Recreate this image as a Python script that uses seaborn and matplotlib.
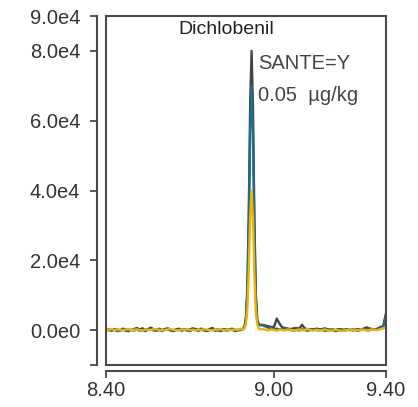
import numpy as np
import pandas as pd
import matplotlib
matplotlib.use("Agg")
import matplotlib.pyplot as plt
import seaborn as sns

# Retention time (min)
time_left = [8.40, 8.41, 8.42, 8.43, 8.44, 8.45, 8.46, 8.47, 8.48, 8.49,
             8.50, 8.51, 8.52, 8.53, 8.54, 8.55, 8.56, 8.57, 8.58, 8.59,
             8.60, 8.61, 8.62, 8.63, 8.64, 8.65, 8.66, 8.67, 8.68, 8.69,
             8.70, 8.71, 8.72, 8.73, 8.74, 8.75, 8.76, 8.77, 8.78, 8.79,
             8.80, 8.81, 8.82, 8.83, 8.84, 8.85, 8.86, 8.87, 8.88]
time_peak = [8.89, 8.895, 8.90, 8.905, 8.91, 8.915, 8.92, 8.925, 8.93,
             8.935, 8.94, 8.945, 8.95]
time_right = [8.96, 8.97, 8.98, 8.99, 9.00, 9.01, 9.02, 9.03, 9.04, 9.05,
              9.06, 9.07, 9.08, 9.09, 9.10, 9.11, 9.12, 9.13, 9.14, 9.15,
              9.16, 9.17, 9.18, 9.19, 9.20, 9.21, 9.22, 9.23, 9.24, 9.25,
              9.26, 9.27, 9.28, 9.29, 9.30, 9.31, 9.32, 9.33, 9.34, 9.35,
              9.36, 9.37, 9.38, 9.39, 9.40]

# Intensity (counts) of the three overlaid traces
black_left = [100, 200, -100, 300, 100, -100, 400, 200, 100, 0,
              300, 600, 200, 500, 100, 300, 700, 200, 100, 400,
              0, 300, 500, 200, -100, 200, 400, 100, 300, 0,
              200, 500, 300, 100, 400, 200, -100, 300, 600, 100,
              200, 0, 300, 100, 200, 400, 100, 0, 200]
black_peak = [300, 1200, 3800, 12500, 34500, 65500, 80000, 63500, 31500,
              10500, 3200, 1700, 1500]
black_right = [1500, 1300, 1100, 900, 900, 3300, 1800, 700, 600, 400,
               300, 500, 600, 400, 1500, 500, 200, 300, 100, 400,
               300, 200, 500, 300, 100, 200, 0, 300, 200, 100,
               300, 0, 200, 100, 300, 200, 400, 800, 500, 300,
               200, 400, 900, 1100, 4800]

blue_left = [-100, 0, -200, 100, -300, -100, 200, -200, -300, 100,
             -100, 200, -200, 0, -300, 100, 300, -100, -200, 0,
             -300, 100, 200, -100, -300, 0, 200, -200, 100, -100,
             -300, 200, 0, -200, 100, -100, -300, 0, 200, -200,
             -100, -300, 100, -200, 0, 200, -300, -100, 0]
blue_peak = [200, 1000, 3300, 11000, 30200, 57300, 70000, 55600, 27600,
             9200, 2800, 1500, 1400]
blue_right = [1400, 1000, 700, 500, 300, 400, 200, 100, 600, 200,
              0, -200, 100, -100, 200, 0, -200, 100, 300, 0,
              -100, 200, -200, -100, 100, 0, -300, -100, 100, -200,
              0, 200, -100, 0, -200, 100, 200, 0, -100, 300,
              100, 200, 500, 900, 4200]

yellow_left = [200, 100, 300, 0, 200, 100, -100, 200, 300, 0,
               100, 200, 0, -100, 200, 100, 0, 300, 200, 100,
               -100, 0, 200, 300, 100, 0, -100, 200, 100, 300,
               0, 100, -100, 200, 0, 300, 100, 0, -100, 200,
               100, 300, 0, -100, 100, 0, 200, 100, 300]
yellow_peak = [100, 600, 1900, 6300, 17300, 32700, 40000, 31800, 15800,
               5300, 1600, 500, 200]
yellow_right = [300, 100, -100, 200, 0, -200, 100, 0, -100, 200,
                100, -100, 0, 200, -100, 100, 300, 0, -200, 100,
                0, -100, 200, 0, -200, -100, 100, 0, -300, -100,
                0, 200, 100, -100, 0, 200, 100, -100, 0, 200,
                100, 0, 300, 500, 800]

trace_names = ["black", "blue", "yellow"]
trace_colors = {"black": "#454545", "blue": "#1d6d8b", "yellow": "#f0b400"}

x_ticks = [8.40, 9.00, 9.40]
x_tick_labels = ["8.40", "9.00", "9.40"]
y_ticks = [-1e4, 0, 2e4, 4e4, 6e4, 8e4, 9e4]
y_tick_labels = ["", "0.0e0", "2.0e4", "4.0e4", "6.0e4", "8.0e4", "9.0e4"]

time = time_left + time_peak + time_right
series = {
    "black": black_left + black_peak + black_right,
    "blue": blue_left + blue_peak + blue_right,
    "yellow": yellow_left + yellow_peak + yellow_right,
}
for name in trace_names:
    assert len(series[name]) == len(time), (name, len(series[name]), len(time))

df = pd.concat(
    [pd.DataFrame({"time": time, "intensity": series[n], "trace": n}) for n in trace_names],
    ignore_index=True,
)

sns.set_style("ticks")
plt.rcParams["font.family"] = ["Liberation Sans", "DejaVu Sans"]

fig = plt.figure(figsize=(4.18, 4.07), dpi=100)
ax = fig.add_axes([106 / 418, 1 - 365 / 407, 280 / 418, 349 / 407])

sns.lineplot(data=df, x="time", y="intensity", hue="trace", hue_order=trace_names,
             palette=trace_colors, estimator=None, sort=False, legend=False,
             linewidth=1.7, ax=ax)

ax.set_xlim(8.40, 9.40)
ax.set_ylim(-1e4, 9e4)
ax.set_xticks(x_ticks)
ax.set_xticklabels(x_tick_labels)
ax.set_yticks(y_ticks)
ax.set_yticklabels(y_tick_labels)
ax.set_xlabel("")
ax.set_ylabel("")

frame_color = "#4a4a4a"
for side in ["top", "right", "left", "bottom"]:
    ax.spines[side].set_visible(True)
    ax.spines[side].set_color(frame_color)
    ax.spines[side].set_linewidth(1.5)
ax.spines["left"].set_position(("outward", 6.5))
ax.spines["bottom"].set_position(("outward", 4.5))
# inner frame edges on the left and bottom of the plotting area
ax.plot([0, 0], [0, 1], transform=ax.transAxes, color=frame_color, lw=1.5,
        clip_on=False, solid_capstyle="projecting")
ax.plot([0, 1], [0, 0], transform=ax.transAxes, color=frame_color, lw=1.5,
        clip_on=False, solid_capstyle="projecting")

ax.tick_params(axis="both", direction="out", length=5, width=1.3,
               color=frame_color, labelsize=14.5, labelcolor="#333333")
ax.tick_params(axis="y", pad=7)
ax.tick_params(axis="x", pad=2)

ax.text(8.829, 8.6e4, "Dichlobenil", ha="center", va="center",
        fontsize=14, color="#222222")
ax.text(8.943, 7.63e4, "SANTE=Y", ha="left", va="center",
        fontsize=14.5, color="#444444")
ax.text(8.943, 6.71e4, "0.05  µg/kg", ha="left", va="center",
        fontsize=14.5, color="#444444")

fig.savefig("out.png", dpi=100)
